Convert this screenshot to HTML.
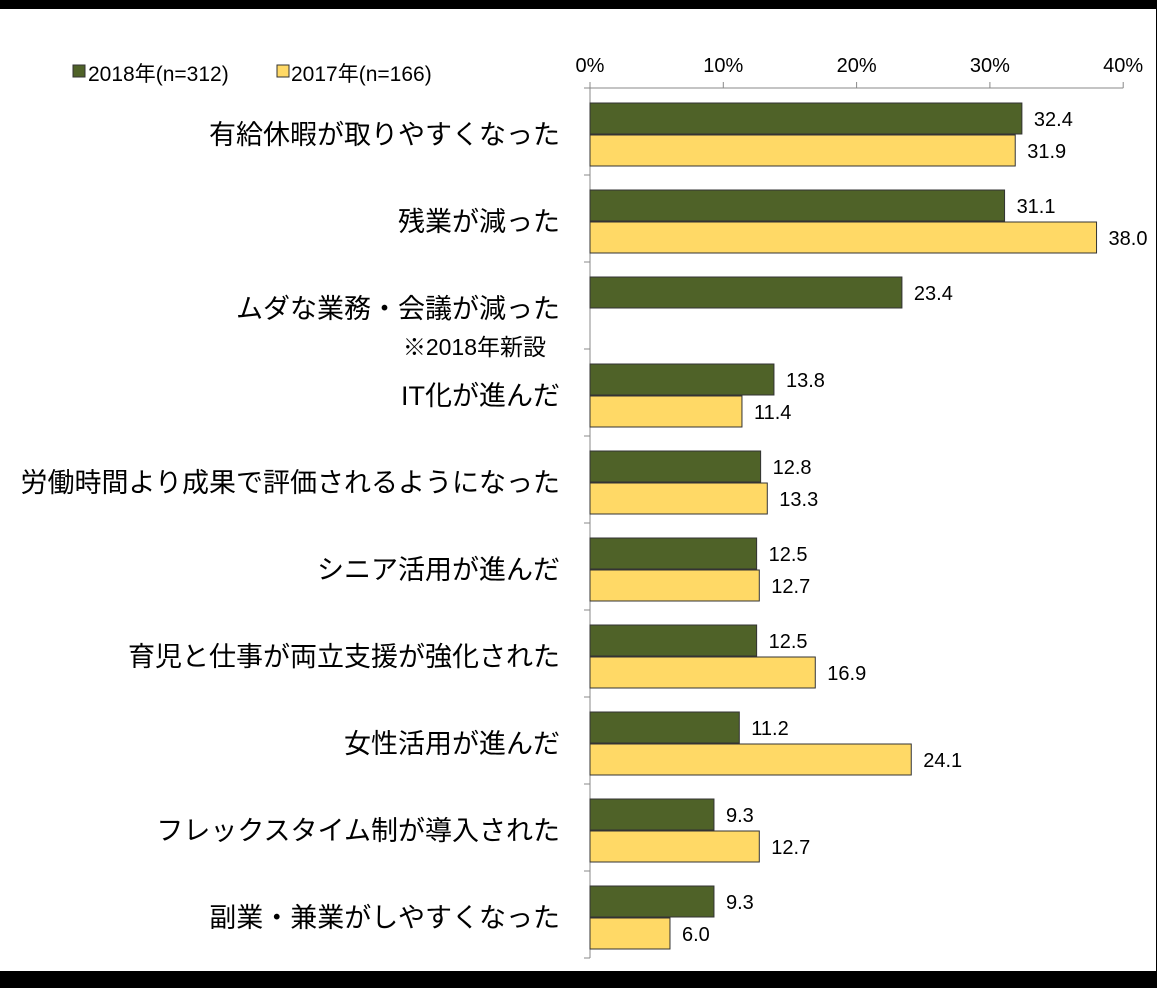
<!DOCTYPE html>
<html><head><meta charset="utf-8"><style>
body{margin:0;width:1157px;height:988px;background:#000;overflow:hidden}
svg{display:block}
text{font-family:"Liberation Sans","Noto Sans CJK JP",sans-serif}
</style></head><body>
<svg width="1157" height="988">
<rect x="0" y="9" width="1156" height="962" fill="#fff"/>
<g id="g"></g>
</svg>
<script>
const categories=["有給休暇が取りやすくなった","残業が減った","ムダな業務・会議が減った","IT化が進んだ","労働時間より成果で評価されるようになった","シニア活用が進んだ","育児と仕事が両立支援が強化された","女性活用が進んだ","フレックスタイム制が導入された","副業・兼業がしやすくなった"];
const values2018=[32.4,31.1,23.4,13.8,12.8,12.5,12.5,11.2,9.3,9.3];
const values2017=[31.9,38.0,null,11.4,13.3,12.7,16.9,24.1,12.7,6.0];
const ticks=[0,10,20,30,40];
const NS="http://www.w3.org/2000/svg",g=document.getElementById('g');
const x0=590,sx=13.33,top0=88,band=87;
const X=v=>x0+v*sx;
function el(t,a,txt){const e=document.createElementNS(NS,t);for(const k in a)e.setAttribute(k,a[k]);if(txt!=null)e.textContent=txt;g.appendChild(e);return e;}
let e;
e=el('line',{x1:x0,y1:top0,x2:X(40),y2:top0,stroke:'#888','stroke-width':1});

e=el('line',{x1:x0,y1:top0,x2:x0,y2:top0+band*categories.length,stroke:'#888','stroke-width':1});

ticks.forEach(t=>{
 e=el('line',{x1:X(t),y1:top0-6,x2:X(t),y2:top0,stroke:'#888'});
 
 e=el('text',{x:X(t),y:72,'font-size':20,'text-anchor':'middle',fill:'#000'},t+'%');
 
});
for(let i=0;i<=categories.length;i++){
 e=el('line',{x1:x0-6,y1:top0+i*band,x2:x0,y2:top0+i*band,stroke:'#888'});
 
}
categories.forEach((c,i)=>{
 const b=top0+i*band;
 e=el('text',{x:560,y:b+56,'font-size':27,'text-anchor':'end',fill:'#000'},c);
 
 if(i===2){
  e=el('text',{x:546,y:b+93,'font-size':23,'text-anchor':'end',fill:'#000'},'※2018年新設');
  
 }
 [[values2018[i],'#4f6228',b+15,'bar-2018'],[values2017[i],'#ffd966',b+47,'bar-2017']].forEach(([v,col,y,n])=>{
  if(v==null)return;
  e=el('rect',{x:x0,y:y,width:X(v)-x0,height:31,fill:col,stroke:'#333','stroke-width':1});
  
  e=el('text',{x:X(v)+12,y:y+23,'font-size':20,fill:'#000'},v.toFixed(1));
  
 });
});
e=el('rect',{x:73,y:65,width:12,height:12,fill:'#4f6228',stroke:'#333'});

e=el('text',{x:88,y:81,'font-size':21,fill:'#000'},'2018年(n=312)');

e=el('rect',{x:277,y:65,width:12,height:12,fill:'#ffd966',stroke:'#333'});

e=el('text',{x:291,y:81,'font-size':21,fill:'#000'},'2017年(n=166)');

</script>
</body></html>
